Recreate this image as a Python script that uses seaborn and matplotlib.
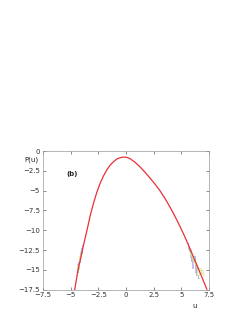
import pandas as pd
import seaborn as sns
import matplotlib.pyplot as plt

# courbe rouge
u_fit = [-4.62, -4.35, -4.05, -3.80, -3.50, -3.20, -2.95, -2.65, -2.34, -2.05, -1.74,
         -1.44, -1.14, -0.84, -0.54, -0.24, 0.06, 0.36, 0.80, 1.26, 1.70, 2.16, 2.60,
         3.06, 3.50, 3.96, 4.40, 4.86, 5.20, 5.61, 6.00, 6.40, 6.85, 7.29]
p_fit = [-17.5, -15.2, -13.3, -11.7, -9.9, -8.0, -6.7, -5.3, -4.1, -3.2, -2.4,
         -1.8, -1.36, -1.02, -0.84, -0.76, -0.78, -0.95, -1.40, -1.99, -2.65, -3.4, -4.15,
         -5.0, -5.95, -7.05, -8.2, -9.5, -10.5, -11.8, -13.1, -14.45, -15.95, -17.45]

# traces bruitées (histogrammes) aux extrémités
u_a = [-4.45, -4.3, -4.2, -4.05, -3.9, 5.5, 5.7, 5.85, 6.0, 6.15, 6.3, 6.45]
p_a = [-14.8, -14.2, -13.6, -12.9, -11.9, -11.6, -12.3, -13.4, -14.7, -13.8, -15.3, -14.6]
u_b = [-4.4, -4.25, -4.1, -3.95, 5.6, 5.8, 5.95, 6.1, 6.25, 6.4, 6.55]
p_b = [-15.3, -14.0, -13.3, -12.2, -12.0, -12.6, -13.9, -13.2, -14.4, -15.6, -16.0]
u_c = [-4.5, -4.35, -4.2, -4.0, 5.7, 5.9, 6.05, 6.2, 6.35, 6.5, 6.7, 6.9]
p_c = [-15.6, -14.9, -13.9, -12.6, -12.3, -13.1, -13.7, -14.0, -14.6, -14.9, -15.0, -15.4]
u_d = [-4.45, -4.3, -4.15, 5.75, 5.95, 6.1, 6.3, 6.5, 6.65, 6.8, 7.0]
p_d = [-15.0, -14.4, -13.3, -12.4, -13.3, -14.0, -14.3, -15.6, -14.8, -15.0, -15.6]

couleurs = ['#c2aeea', '#8fb2e4', '#a8eaa8', '#f2e08a']

fig = plt.figure(figsize=(2.53, 3.27), dpi=100)
ax = fig.add_axes([0.169, 0.114, 0.658, 0.424])
sns.set_style('white')

for uu, pp, c in zip([u_a, u_b, u_c, u_d], [p_a, p_b, p_c, p_d], couleurs):
    n = len([x for x in uu if x < 0])
    df_l = pd.DataFrame({'u': uu[:n], 'P': pp[:n]})
    df_r = pd.DataFrame({'u': uu[n:], 'P': pp[n:]})
    sns.lineplot(data=df_l, x='u', y='P', ax=ax, color=c, lw=0.6, drawstyle='steps-mid', sort=False)
    sns.lineplot(data=df_r, x='u', y='P', ax=ax, color=c, lw=0.6, drawstyle='steps-mid', sort=False)

sns.lineplot(x=u_fit, y=p_fit, ax=ax, color='#e8303a', lw=0.9, sort=False)

ax.set_xlim(-7.5, 7.5)
ax.set_ylim(-17.5, 0)
ax.set_xticks([-7.5, -5, -2.5, 0, 2.5, 5, 7.5])
ax.set_xticklabels(['\u22127.5', '\u22125', '\u22122.5', '0', '2.5', '5', '7.5'])
ax.set_yticks([0, -2.5, -5, -7.5, -10, -12.5, -15, -17.5])
ax.set_yticklabels(['0', '\u22122.5', '\u22125', '\u22127.5', '\u221210', '\u221212.5', '\u221215', '\u221217.5'])
ax.tick_params(direction='in', length=2, width=0.4, labelsize=5, pad=2,
               top=True, right=True, colors='#333333')
for s in ax.spines.values():
    s.set_linewidth(0.5)
    s.set_color('#999999')
ax.set_xlabel('')
ax.set_ylabel('')
ax.text(-7.9, -1.1, 'P(u)', fontsize=5, ha='right', va='center', color='#222222')
ax.text(-5.35, -2.85, '(b)', fontsize=5, ha='left', va='center', fontweight='bold', color='#222222')
ax.text(6.2, -19.5, 'u', fontsize=5, ha='center', va='center', color='#222222')

plt.savefig('out.png', dpi=100)
